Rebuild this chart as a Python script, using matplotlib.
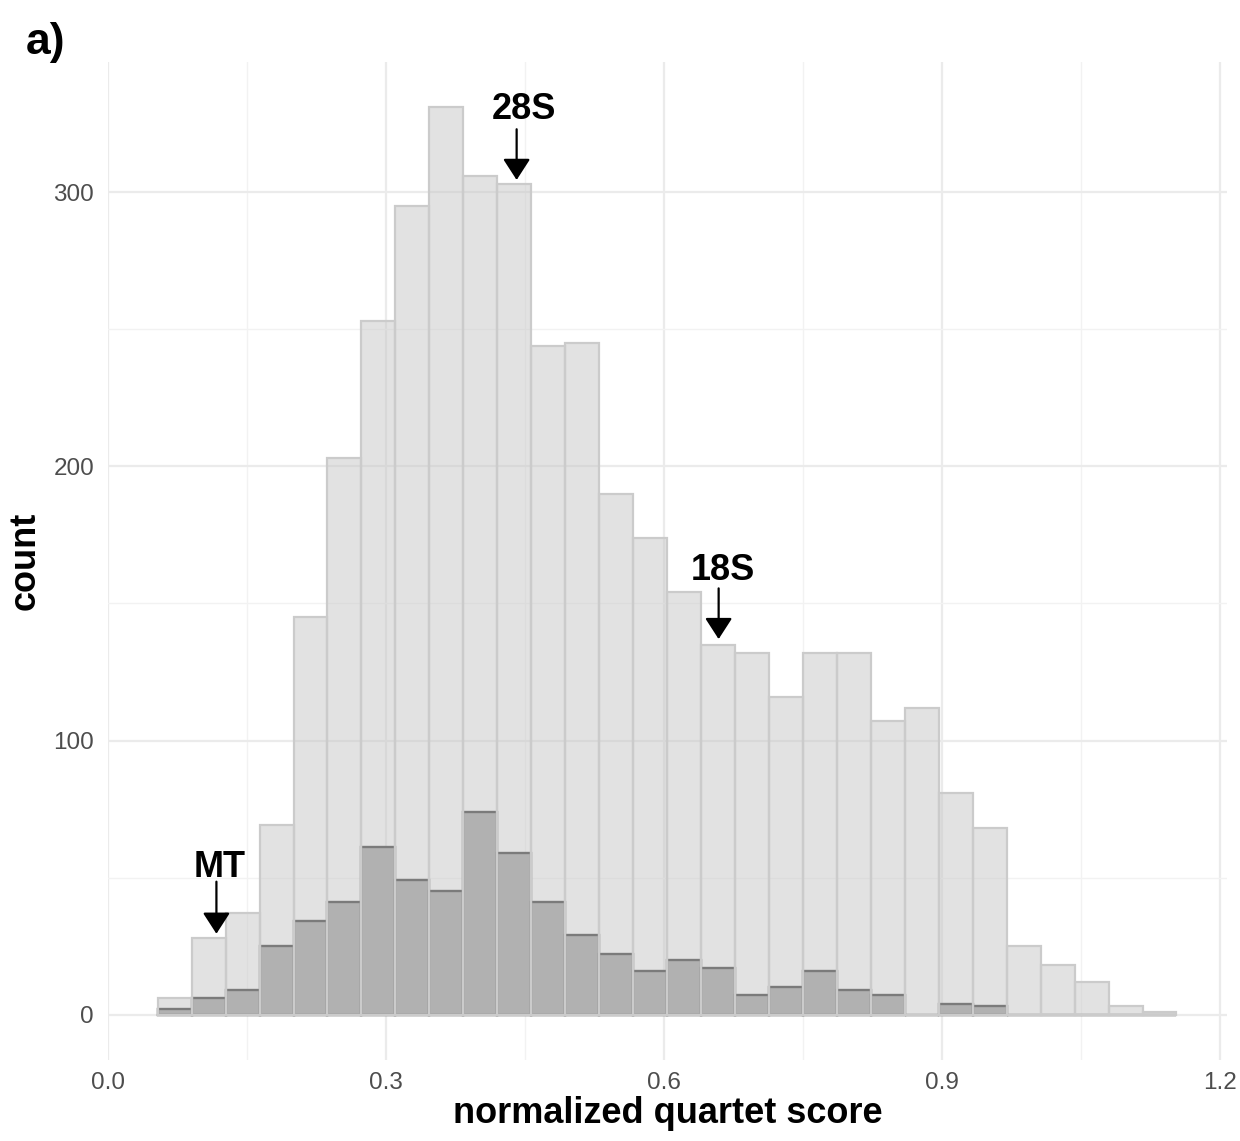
import matplotlib
matplotlib.use('Agg')
import matplotlib.pyplot as plt
import numpy as np
from matplotlib.ticker import MultipleLocator

plt.rcParams['font.family'] = ['Liberation Sans', 'DejaVu Sans']

# histogram: 30 bins of equal width
bin_start = 0.0536
bin_width = 0.03665
all_counts = [6, 28, 37, 69, 145, 203, 253, 295, 331, 306,
              303, 244, 245, 190, 174, 154, 135, 132, 116, 132,
              132, 107, 112, 81, 68, 25, 18, 12, 3, 1]
sub_counts = [2, 6, 9, 25, 34, 41, 61, 49, 45, 74,
              59, 41, 29, 22, 16, 20, 17, 7, 10, 16,
              9, 7, 0, 4, 3, 0, 0, 0, 0, 0]

# annotations: label, arrow x, arrow tail y, arrow tip y, text x, text baseline y
ann_labels = ['MT', '28S', '18S']
ann_x = [0.117, 0.441, 0.659]
ann_tail = [48.5, 323, 155.5]
ann_tip = [29.5, 304.5, 137]
ann_tx = [0.120, 0.449, 0.664]
ann_ty = [50.3, 326.7, 158.5]

left = bin_start + bin_width * np.arange(len(all_counts))

fig = plt.figure(figsize=(12.4, 11.41), dpi=100)
ax = fig.add_axes([0.0871, 0.0710, 0.9024, 0.8747])

ax.bar(left, sub_counts, width=bin_width, align='edge', color='#9C9C9C',
       edgecolor='#303030', linewidth=1.7, zorder=2)
ax.bar(left, all_counts, width=bin_width, align='edge', color=(0.78, 0.78, 0.78, 0.5),
       edgecolor='#CBCBCB', linewidth=1.6, zorder=3)

for lab, x, y0, y1, tx, ty in zip(ann_labels, ann_x, ann_tail, ann_tip, ann_tx, ann_ty):
    ax.annotate('', xy=(x, y1), xytext=(x, y0),
                arrowprops=dict(arrowstyle='-|>,head_length=0.65,head_width=0.42',
                                mutation_scale=20, lw=1.6, color='black',
                                shrinkA=0, shrinkB=0), zorder=5)
    ax.text(tx, ty, lab, ha='center', va='baseline', fontsize=26,
            fontweight='bold', zorder=5)

ax.set_xlim(0, 1.2076)
ax.set_ylim(-16.55, 347.55)
ax.xaxis.set_major_locator(MultipleLocator(0.3))
ax.xaxis.set_minor_locator(MultipleLocator(0.15))
ax.yaxis.set_major_locator(MultipleLocator(100))
ax.yaxis.set_minor_locator(MultipleLocator(50))
ax.xaxis.set_major_formatter(plt.FuncFormatter(lambda v, p: f'{v:.1f}'))
ax.grid(which='major', color='#EBEBEB', linewidth=1.6, zorder=0)
ax.grid(which='minor', color='#F2F2F2', linewidth=1.0, zorder=0)
ax.set_axisbelow(True)
for s in ax.spines.values():
    s.set_visible(False)
ax.tick_params(which='both', length=0, labelsize=17.5, labelcolor='#4D4D4D')
ax.tick_params(axis='x', pad=9)
ax.tick_params(axis='y', pad=10)

ax.set_xlabel('normalized quartet score', fontsize=26, fontweight='bold', labelpad=1)
ax.set_ylabel('count', fontsize=26, fontweight='bold', labelpad=8)

fig.text(26 / 1240, 1 - 54 / 1141, 'a)', fontsize=32, fontweight='bold',
         ha='left', va='baseline')

fig.savefig('out.png', dpi=100)
